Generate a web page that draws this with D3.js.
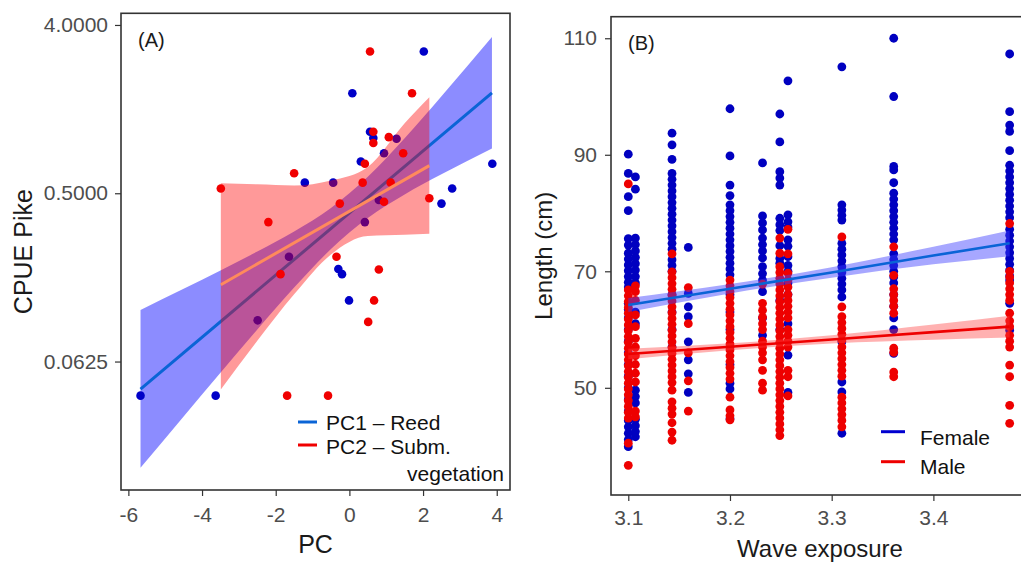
<!DOCTYPE html>
<html>
<head>
<meta charset="utf-8">
<script src="https://cdn.jsdelivr.net/npm/d3@7"></script>
<style>
  body { margin: 0; background: #fff; }
  svg { display: block; font-family: Arial, "Liberation Sans", sans-serif; }
</style>
</head>
<body>
<div id="chart"></div>
<script>
// ---- (A) CPUE of pike against PC scores ----
var pc1X = [2.02, 0.08, 0.56, 0.65, 1.28, 0.94, 0.31, -1.21, -0.44, 3.88, 2.79, 2.50, 0.80, 0.42, -1.64, -2.49, -0.30, -0.20, -0.01, -5.67, -3.63];
var pc1Y = [2.88, 1.72, 1.07, 0.99, 0.98, 0.82, 0.74, 0.57, 0.57, 0.72, 0.53, 0.44, 0.46, 0.35, 0.228, 0.104, 0.196, 0.184, 0.133, 0.041, 0.041];
var pc2X = [0.56, 1.70, 0.65, 0.65, 1.07, 1.46, 0.42, -1.50, -3.49, 0.36, 1.12, 2.17, -0.26, 0.94, -2.20, -1.87, -0.35, 0.80, 0.67, 0.51, -1.69, -0.58];
var pc2Y = [2.88, 1.72, 1.07, 0.93, 1.0, 0.82, 0.72, 0.64, 0.53, 0.57, 0.57, 0.47, 0.44, 0.45, 0.35, 0.184, 0.228, 0.195, 0.133, 0.102, 0.041, 0.041];

// fitted lines and confidence bands
var pc1FitX = [-5.67, 3.87];
var pc1Fit = [0.0445, 1.729];
var pc1BandX = [-5.67, -4.5, -3.5, -2.5, -1.5, -0.5, 0.5, 1.5, 2.5, 3.87];
var pc1Lower = [0.0168, 0.0317, 0.0544, 0.0928, 0.1558, 0.2509, 0.3681, 0.4926, 0.6315, 0.8681];
var pc1Upper = [0.1182, 0.1535, 0.1924, 0.2432, 0.3118, 0.4173, 0.6122, 0.9859, 1.6552, 3.444];
var pc2FitX = [-3.49, 2.17];
var pc2Fit = [0.1615, 0.7033];
var pc2BandX = [-3.49, -2.5, -1.5, -0.5, 0.5, 1.5, 2.17];
var pc2Lower = [0.0442, 0.0808, 0.1436, 0.2349, 0.2952, 0.2994, 0.3035];
var pc2Upper = [0.5664, 0.5586, 0.55, 0.585, 0.6925, 1.1892, 1.638];

var pcTicks = [-6, -4, -2, 0, 2, 4];
var cpueTicks = [0.0625, 0.5, 4];

// ---- (B) pike length against wave exposure ----
var waveX = [3.100, 3.107, 3.143, 3.159, 3.200, 3.232, 3.249, 3.257, 3.310, 3.361, 3.475];
var femaleLen = [
  [90.1, 86.8, 82.8, 80.4, 75.6, 74.5, 73.1, 72.1, 71.1, 70.1, 69.1, 68.1, 67.3, 64.5, 63.5, 62, 60, 58, 56, 54, 52, 50, 48, 46, 44.4, 43.3, 42.2, 41.1, 39.9],
  [86.2, 84.1, 75.7, 74.6, 73.5, 72.4, 71.3, 70.2, 69.1, 68.0, 63.0, 61.0, 49.6, 48.5, 47.4, 44.6, 43.5, 42.5, 41.6],
  [93.7, 91.7, 89.2, 86.8, 85.8, 84.8, 83.8, 82.8, 81.8, 80.8, 79.8, 78.8, 77.8, 76.8, 75.8, 74.8, 73.8, 72.0, 71.0, 70.0, 66.0, 63.0, 60.0, 57.0],
  [74.1, 66.2, 63.9, 62.2, 57.9, 54.8, 52.4, 49.2],
  [97.9, 89.8, 84.8, 83.0, 81.4, 80.4, 79.4, 78.4, 77.4, 76.4, 75.4, 74.4, 73.4, 72.4, 71.4, 70.4, 69.4, 66.0, 63.0, 60.0, 57.0, 54.0, 50.8, 49.8, 44.7],
  [88.6, 79.5, 78.3, 77.1, 75.7, 74.6, 73.5, 72.3, 70.8, 69.6, 68.5, 66.5, 62.0, 59.0],
  [97.0, 92.2, 87.1, 86.0, 84.8, 79.1, 78.0, 77.0, 74.4, 72.2, 71.4, 65.0, 60.0],
  [102.7, 79.7, 78.5, 77.6, 75.4, 74.3, 72.5, 71.0, 70.0, 68.0, 66.0, 61.0, 55.6, 49.2],
  [105.1, 81.4, 80.5, 79.6, 78.8, 74.8, 73.8, 72.8, 71.8, 70.8, 69.8, 68.8, 67.8, 66.8, 65.6, 57.9, 51.0, 49.3, 42.2],
  [110.0, 100.0, 88.0, 87.4, 85.2, 83.4, 82.4, 81.4, 80.4, 79.4, 78.4, 77.4, 76.4, 75.4, 73.0, 72.0, 71.0, 70.0, 69.0, 68.0, 66.0, 64.0, 62.0, 60.0, 55.9],
  [107.3, 97.4, 95.1, 94.0, 90.7, 88.2, 87.2, 86.2, 85.2, 84.2, 83.2, 82.2, 81.2, 80.2, 79.2, 77.2, 76.2, 75.2, 74.2, 73.2, 72.2, 71.2, 70.2, 69.2, 68.5, 64.5, 59.9]
];
var maleLen = [
  [85.0, 66.8, 65.8, 64.8, 63.8, 62.8, 61.8, 60.8, 59.8, 58.8, 57.8, 56.8, 55.8, 54.8, 53.8, 52.8, 51.8, 50.8, 49.8, 48.8, 47.8, 46.8, 45.8, 44.8, 40.5, 36.7],
  [67.5, 66.5, 65.0, 62.5, 60.5, 58.5, 57.0, 55.5, 54.0, 52.5, 51.0, 46.0, 45.0],
  [73.0, 69.9, 68.9, 67.9, 66.9, 65.9, 64.9, 63.9, 62.9, 61.9, 60.9, 59.9, 58.9, 57.9, 56.9, 55.9, 54.9, 53.9, 52.9, 51.9, 50.9, 49.6, 47.6, 46.5, 45.5, 44.0, 42.4, 41.0],
  [67.2, 61.0, 56.0, 51.2, 46.0],
  [68.5, 67.5, 66.5, 65.5, 64.5, 63.5, 62.5, 61.5, 60.5, 59.5, 58.5, 57.5, 56.5, 55.5, 54.5, 53.5, 52.5, 51.5, 48.4, 46.2, 45.2, 44.5],
  [67.8, 64.5, 63.3, 62.1, 61.0, 60.0, 58.0, 57.0, 56.0, 54.8, 53.0, 50.8, 49.6],
  [75.7, 73.1, 70.8, 69.8, 68.8, 67.8, 66.8, 65.8, 64.8, 63.8, 62.8, 61.8, 60.8, 59.8, 58.8, 57.8, 56.8, 55.8, 54.8, 53.8, 52.8, 51.8, 50.8, 49.8, 48.8, 47.8, 46.8, 45.8, 44.8, 43.8, 42.8, 41.8],
  [77.2, 73.0, 69.7, 68.5, 67.3, 66.0, 65.0, 64.0, 63.0, 62.0, 60.0, 59.0, 58.0, 57.0, 53.0, 51.9, 48.6],
  [75.9, 63.9, 62.2, 61.2, 60.2, 59.2, 58.2, 57.0, 56.0, 55.0, 54.0, 53.0, 52.0, 48.4, 47.4, 46.4, 45.4, 44.4, 43.3],
  [74.2, 69.3, 67.0, 66.0, 65.0, 64.0, 62.8, 56.8, 56.1, 52.7, 51.9],
  [78.2, 70.0, 69.0, 68.0, 67.0, 66.0, 65.0, 62.8, 61.5, 60.5, 59.0, 58.0, 57.0, 53.9, 51.9, 47.0, 43.9]
];

var sexBandX = [3.1, 3.2, 3.3, 3.4, 3.475];
var femaleFit = [64.2, 67.0, 69.8, 72.7, 74.8];
var femaleLower = [63.0, 66.2, 68.9, 71.2, 72.6];
var femaleUpper = [65.4, 67.8, 70.7, 74.2, 77.0];
var maleFit = [55.8, 57.05, 58.3, 59.55, 60.5];
var maleLower = [54.9, 56.45, 57.6, 58.25, 58.65];
var maleUpper = [56.7, 57.65, 59.0, 60.85, 62.35];

var waveTicks = [3.1, 3.2, 3.3, 3.4];
var lengthTicks = [50, 70, 90, 110];

var svg = d3.select('#chart').append('svg')
    .attr('width', 1021)
    .attr('height', 562);

svg.append('rect').attr('width', 1021).attr('height', 562).attr('fill', '#fff');

function zipBand(xs, lo, hi) {
    return xs.map(function(x, i) { return { x: x, lo: lo[i], hi: hi[i] }; });
}

function zipLine(xs, ys) {
    return xs.map(function(x, i) { return { x: x, y: ys[i] }; });
}

function styleAxis(g, size) {
    g.select('.domain').remove();
    g.selectAll('.tick line').attr('stroke', '#333').attr('stroke-width', 1.2);
    g.selectAll('.tick text')
        .attr('fill', '#4d4d4d')
        .style('font-size', size + 'px')
        .style('font-family', 'Arial, "Liberation Sans", sans-serif');
}

// ================= panel A =================
var boxA = { x0: 121, x1: 510, y0: 13.3, y1: 490 };
var xA = d3.scaleLinear().domain([-6.2, 4.36]).range([boxA.x0, boxA.x1]);
var yA = d3.scaleLog().base(2).domain([0.01278, 4.62]).range([boxA.y1, boxA.y0]);

svg.append('clipPath').attr('id', 'clipA')
    .append('rect')
    .attr('x', boxA.x0).attr('y', boxA.y0)
    .attr('width', boxA.x1 - boxA.x0).attr('height', boxA.y1 - boxA.y0);

var gA = svg.append('g').attr('clip-path', 'url(#clipA)');

var areaA = d3.area()
    .x(function(d) { return xA(d.x); })
    .y0(function(d) { return yA(d.lo); })
    .y1(function(d) { return yA(d.hi); })
    .curve(d3.curveMonotoneX);

var lineA = d3.line()
    .x(function(d) { return xA(d.x); })
    .y(function(d) { return yA(d.y); });

gA.append('path')
    .datum(zipBand(pc1BandX, pc1Lower, pc1Upper))
    .attr('d', areaA)
    .attr('fill', '#0000ff')
    .attr('fill-opacity', 0.45);

gA.append('path')
    .datum(zipLine(pc1FitX, pc1Fit))
    .attr('d', lineA)
    .attr('fill', 'none')
    .attr('stroke', '#0a64d6')
    .attr('stroke-width', 3);

gA.selectAll('circle.pc1')
    .data(zipLine(pc1X, pc1Y))
    .enter()
    .append('circle')
    .attr('class', 'pc1')
    .attr('cx', function(d) { return xA(d.x); })
    .attr('cy', function(d) { return yA(d.y); })
    .attr('r', 4.3)
    .attr('fill', '#0000c8');

gA.selectAll('circle.pc2')
    .data(zipLine(pc2X, pc2Y))
    .enter()
    .append('circle')
    .attr('class', 'pc2')
    .attr('cx', function(d) { return xA(d.x); })
    .attr('cy', function(d) { return yA(d.y); })
    .attr('r', 4.3)
    .attr('fill', '#f00000');

gA.append('path')
    .datum(zipBand(pc2BandX, pc2Lower, pc2Upper))
    .attr('d', areaA)
    .attr('fill', '#ff0000')
    .attr('fill-opacity', 0.4);

gA.append('path')
    .datum(zipLine(pc2FitX, pc2Fit))
    .attr('d', lineA)
    .attr('fill', 'none')
    .attr('stroke', '#ff8a5c')
    .attr('stroke-width', 3);

svg.append('rect')
    .attr('x', boxA.x0).attr('y', boxA.y0)
    .attr('width', boxA.x1 - boxA.x0).attr('height', boxA.y1 - boxA.y0)
    .attr('fill', 'none')
    .attr('stroke', '#333')
    .attr('stroke-width', 1.6);

var axAx = svg.append('g')
    .attr('transform', 'translate(0,' + boxA.y1 + ')')
    .call(d3.axisBottom(xA).tickValues(pcTicks).tickSize(6).tickPadding(11)
        .tickFormat(function(d) { return String(d); }));
styleAxis(axAx, 21);

var axAy = svg.append('g')
    .attr('transform', 'translate(' + boxA.x0 + ',0)')
    .call(d3.axisLeft(yA).tickValues(cpueTicks).tickSize(6).tickPadding(7)
        .tickFormat(d3.format('.4f')));
styleAxis(axAy, 21);

svg.append('text')
    .attr('x', (boxA.x0 + boxA.x1) / 2).attr('y', 553)
    .attr('text-anchor', 'middle')
    .attr('fill', '#1a1a1a')
    .style('font-size', '25px')
    .text('PC');

svg.append('text')
    .attr('transform', 'translate(32,' + ((boxA.y0 + boxA.y1) / 2) + ') rotate(-90)')
    .attr('text-anchor', 'middle')
    .attr('fill', '#1a1a1a')
    .style('font-size', '25px')
    .text('CPUE Pike');

svg.append('text')
    .attr('x', 138).attr('y', 47)
    .attr('fill', '#1a1a1a')
    .style('font-size', '20px')
    .text('(A)');

// legend A
var legA = svg.append('g');
legA.append('line').attr('x1', 298).attr('x2', 317).attr('y1', 422).attr('y2', 422)
    .attr('stroke', '#0a64d6').attr('stroke-width', 3);
legA.append('line').attr('x1', 298).attr('x2', 317).attr('y1', 445).attr('y2', 445)
    .attr('stroke', '#f00000').attr('stroke-width', 3);
legA.append('text').attr('x', 326).attr('y', 429.5)
    .style('font-size', '21px').attr('fill', '#111').text('PC1 \u2013 Reed');
legA.append('text').attr('x', 326).attr('y', 453.5)
    .style('font-size', '21px').attr('fill', '#111').text('PC2 \u2013 Subm.');
legA.append('text').attr('x', 504).attr('y', 480.5).attr('text-anchor', 'end')
    .style('font-size', '21px').attr('fill', '#111').text('vegetation');

// ================= panel B =================
var boxB = { x0: 611, x1: 1030, y0: 16.7, y1: 495 };
var xB = d3.scaleLinear().domain([3.083, 3.495]).range([boxB.x0, boxB.x1]);
var yB = d3.scaleLinear().domain([31.6, 113.7]).range([boxB.y1, boxB.y0]);

svg.append('clipPath').attr('id', 'clipB')
    .append('rect')
    .attr('x', boxB.x0).attr('y', boxB.y0)
    .attr('width', boxB.x1 - boxB.x0).attr('height', boxB.y1 - boxB.y0);

var gB = svg.append('g').attr('clip-path', 'url(#clipB)');

function flatten(lens) {
    var out = [];
    waveX.forEach(function(w, i) {
        lens[i].forEach(function(v) { out.push({ x: w, y: v }); });
    });
    return out;
}

gB.selectAll('circle.female')
    .data(flatten(femaleLen))
    .enter()
    .append('circle')
    .attr('class', 'female')
    .attr('cx', function(d) { return xB(d.x); })
    .attr('cy', function(d) { return yB(d.y); })
    .attr('r', 4.4)
    .attr('fill', '#0000c0');

gB.selectAll('circle.male')
    .data(flatten(maleLen))
    .enter()
    .append('circle')
    .attr('class', 'male')
    .attr('cx', function(d) { return xB(d.x); })
    .attr('cy', function(d) { return yB(d.y); })
    .attr('r', 4.4)
    .attr('fill', '#ee0000');

var areaB = d3.area()
    .x(function(d) { return xB(d.x); })
    .y0(function(d) { return yB(d.lo); })
    .y1(function(d) { return yB(d.hi); })
    .curve(d3.curveMonotoneX);

var lineB = d3.line()
    .x(function(d) { return xB(d.x); })
    .y(function(d) { return yB(d.y); });

gB.append('path')
    .datum(zipBand(sexBandX, femaleLower, femaleUpper))
    .attr('d', areaB)
    .attr('fill', '#3c3cff')
    .attr('fill-opacity', 0.45);
gB.append('path')
    .datum(zipLine(sexBandX, femaleFit))
    .attr('d', lineB)
    .attr('fill', 'none')
    .attr('stroke', '#0a64d6')
    .attr('stroke-width', 2.6);

gB.append('path')
    .datum(zipBand(sexBandX, maleLower, maleUpper))
    .attr('d', areaB)
    .attr('fill', '#ff3c3c')
    .attr('fill-opacity', 0.4);
gB.append('path')
    .datum(zipLine(sexBandX, maleFit))
    .attr('d', lineB)
    .attr('fill', 'none')
    .attr('stroke', '#ee0000')
    .attr('stroke-width', 2.6);

svg.append('rect')
    .attr('x', boxB.x0).attr('y', boxB.y0)
    .attr('width', boxB.x1 - boxB.x0).attr('height', boxB.y1 - boxB.y0)
    .attr('fill', 'none')
    .attr('stroke', '#333')
    .attr('stroke-width', 1.6);

var axBx = svg.append('g')
    .attr('transform', 'translate(0,' + boxB.y1 + ')')
    .call(d3.axisBottom(xB).tickValues(waveTicks).tickSize(6).tickPadding(9)
        .tickFormat(d3.format('.1f')));
styleAxis(axBx, 21);

var axBy = svg.append('g')
    .attr('transform', 'translate(' + boxB.x0 + ',0)')
    .call(d3.axisLeft(yB).tickValues(lengthTicks).tickSize(6).tickPadding(8));
styleAxis(axBy, 21);

svg.append('text')
    .attr('x', 820).attr('y', 557)
    .attr('text-anchor', 'middle')
    .attr('fill', '#1a1a1a')
    .style('font-size', '24px')
    .text('Wave exposure');

svg.append('text')
    .attr('transform', 'translate(552,' + ((boxB.y0 + boxB.y1) / 2) + ') rotate(-90)')
    .attr('text-anchor', 'middle')
    .attr('fill', '#1a1a1a')
    .style('font-size', '24px')
    .text('Length (cm)');

svg.append('text')
    .attr('x', 628).attr('y', 50)
    .attr('fill', '#1a1a1a')
    .style('font-size', '20px')
    .text('(B)');

// legend B
var legB = svg.append('g');
legB.append('line').attr('x1', 881).attr('x2', 905).attr('y1', 431.7).attr('y2', 431.7)
    .attr('stroke', '#0000d0').attr('stroke-width', 3);
legB.append('line').attr('x1', 881).attr('x2', 905).attr('y1', 461.7).attr('y2', 461.7)
    .attr('stroke', '#ee0000').attr('stroke-width', 3);
legB.append('text').attr('x', 920).attr('y', 445)
    .style('font-size', '21px').attr('fill', '#111').text('Female');
legB.append('text').attr('x', 920).attr('y', 474)
    .style('font-size', '21px').attr('fill', '#111').text('Male');
</script>
</body>
</html>
